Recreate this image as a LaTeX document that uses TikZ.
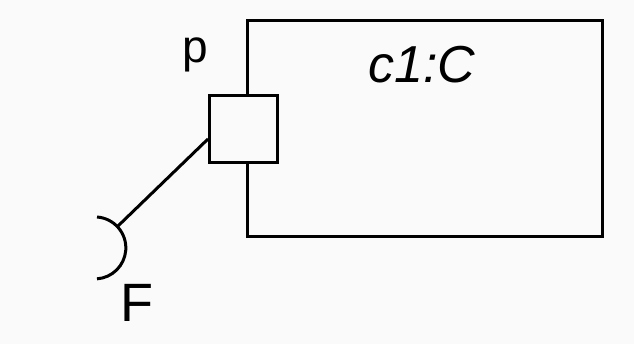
\documentclass[tikz,border=0pt]{standalone}
\usepackage{fontspec}
\setmainfont{Liberation Sans}
\begin{document}
\begin{tikzpicture}[x=1pt,y=-1pt,
  ln/.style={line width=3pt, black},
  lbl/.style={inner sep=0pt, anchor=base}]
\useasboundingbox[fill=white!98!black] (0,0) rectangle (634,344);
% component
\node[ln, draw, minimum width=355pt, minimum height=216pt, inner sep=0pt, anchor=north west] (comp) at (246,19) {};
\node[lbl] (name) at (422,83) {\fontsize{52}{60}\selectfont\itshape c1:C};
% port
\node[ln, draw, fill=white!98!black, minimum width=68pt, minimum height=67pt, inner sep=0pt, anchor=north west] (port) at (208,94) {};
\node[lbl] (plabel) at (195,63) {\fontsize{46}{54}\selectfont p};
% required interface socket
\coordinate (sock) at (118,226);
\draw[ln] (port.west |- 0,139) -- (sock);
\draw[ln] (97,217) arc[start angle=-86, end angle=86, radius=31];
\node[lbl] (flabel) at (137,322) {\fontsize{54}{62}\selectfont F};
\end{tikzpicture}
\end{document}
